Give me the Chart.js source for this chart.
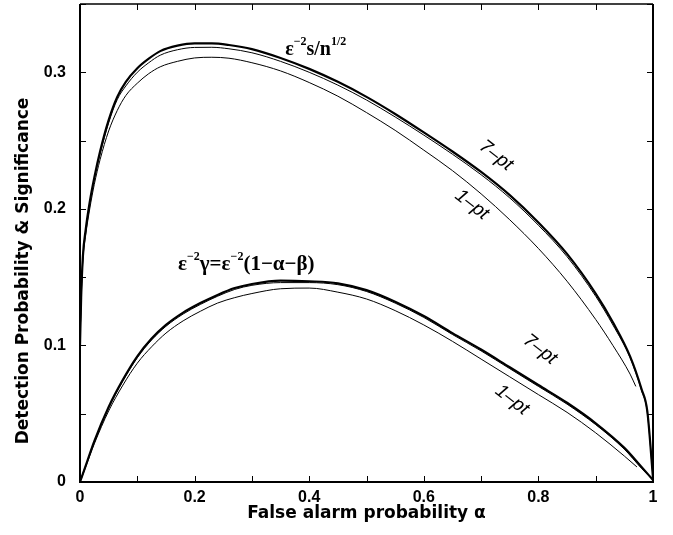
<!DOCTYPE html>
<html><head><meta charset="utf-8">
<script src="https://cdn.jsdelivr.net/npm/chart.js@4.4.0/dist/chart.umd.min.js"></script>
<style>html,body{margin:0;padding:0;background:#fff;}#wrap{width:673px;height:535px;position:relative;}</style>
</head><body><div id="wrap"><canvas id="c" width="673" height="535"></canvas></div>
<script>
// ---- data ----
const alphaUpper = [0, .002, .005, .01, .017, .025, .035, .05, .065, .08, .1, .12, .14, .17, .2, .23, .26, .3, .35, .4, .45, .5, .55, .6, .65, .7, .75, .8, .85, .9, .93, .96, .98, .99, 1.0];
const upper7 = [0.100, 0.135, 0.165, 0.185, 0.205, 0.223, 0.242, 0.265, 0.282, 0.293, 0.303, 0.310, 0.3155, 0.3195, 0.3212, 0.3212, 0.3200, 0.3170, 0.3105, 0.3025, 0.2930, 0.2820, 0.2695, 0.256, 0.242, 0.227, 0.210, 0.190, 0.167, 0.138, 0.117, 0.092, 0.068, 0.052, 0.003];
const upperMid = [0.100, 0.134, 0.164, 0.184, 0.204, 0.222, 0.240, 0.263, 0.280, 0.290, 0.300, 0.307, 0.3125, 0.3165, 0.3182, 0.3183, 0.3172, 0.3143, 0.3080, 0.3000, 0.2906, 0.2797, 0.2673, 0.254, 0.240, 0.225, 0.208, 0.188, 0.165, 0.136, 0.115, 0.091, 0.067, 0.051, 0.003];
const alphaUpper1 = [0, .002, .005, .01, .017, .025, .035, .05, .065, .08, .1, .12, .14, .17, .2, .23, .26, .3, .35, .4, .45, .5, .55, .6, .65, .7, .75, .8, .85, .9, .93, .96, .97];
const upper1 = [0.100, 0.132, 0.162, 0.181, 0.200, 0.218, 0.236, 0.257, 0.272, 0.283, 0.292, 0.299, 0.304, 0.308, 0.3105, 0.311, 0.3103, 0.307, 0.301, 0.2925, 0.2825, 0.2705, 0.2575, 0.243, 0.228, 0.211, 0.192, 0.171, 0.147, 0.119, 0.100, 0.079, 0.070];

const alphaLower = [0, .01, .025, .05, .075, .1, .125, .15, .18, .21, .24, .27, .3, .35, .4, .45, .5, .55, .6, .65, .7, .75, .8, .85, .9, .95, .98, 1.0];
const lower7 = [0, 0.012, 0.030, 0.055, 0.075, 0.092, 0.105, 0.115, 0.124, 0.131, 0.137, 0.142, 0.145, 0.1475, 0.147, 0.1455, 0.1405, 0.132, 0.1215, 0.109, 0.097, 0.084, 0.071, 0.058, 0.043, 0.025, 0.011, 0.0015];
const lowerMid = [0, 0.012, 0.029, 0.054, 0.074, 0.091, 0.104, 0.114, 0.123, 0.130, 0.136, 0.141, 0.144, 0.146, 0.146, 0.1445, 0.1395, 0.131, 0.1205, 0.108, 0.096, 0.083, 0.070, 0.057, 0.042, 0.024, 0.010, 0.0015];
const alphaLower1 = [0, .01, .025, .05, .075, .1, .125, .15, .18, .21, .24, .27, .3, .35, .4, .45, .5, .55, .6, .65, .7, .75, .8, .85, .9, .95, .972];
const lower1 = [0, 0.011, 0.028, 0.052, 0.071, 0.087, 0.099, 0.109, 0.118, 0.125, 0.131, 0.135, 0.138, 0.1415, 0.142, 0.139, 0.134, 0.1255, 0.115, 0.103, 0.090, 0.077, 0.064, 0.051, 0.036, 0.019, 0.011];

const xTickLabels = {0: '0', 2: '0.2', 4: '0.4', 6: '0.6', 8: '0.8', 10: '1'};
const yTickLabels = {0: '0', 2: '0.1', 4: '0.2', 6: '0.3'};
const xTitle = 'False alarm probability \u03b1';
const yTitle = 'Detection Probability & Significance';

// annotation anchors in data coordinates
const ptLabels = [
  {text: '7\u2013pt', a: 0.726, v: 0.239},
  {text: '1\u2013pt', a: 0.684, v: 0.203},
  {text: '7\u2013pt', a: 0.803, v: 0.097},
  {text: '1\u2013pt', a: 0.754, v: 0.060}
];
const upperTitlePos = {a: 0.358, v: 0.313};
const lowerTitlePos = {a: 0.171, v: 0.155};

function pts(xs, ys){ return xs.map((x,i)=>({x:x, y:ys[i]})); }

function ds(xs, ys, w){
  return {data: pts(xs, ys), borderColor:'#000', borderWidth:w, pointRadius:0, fill:false, cubicInterpolationMode:'monotone'};
}

function rich(ctx, x, y, parts){
  let cx = x;
  for (const p of parts){
    ctx.font = p.font;
    ctx.fillText(p.t, cx, y - (p.dy||0));
    cx += ctx.measureText(p.t).width + (p.gap||0);
  }
}

const decor = {
  id:'decor',
  afterDraw(chart){
    const {ctx, chartArea:ca, scales:{x, y}} = chart;
    ctx.save();
    ctx.strokeStyle = '#000';
    // frame
    ctx.lineWidth = 2;
    ctx.beginPath();
    ctx.moveTo(ca.left, ca.top); ctx.lineTo(ca.left, ca.bottom); ctx.lineTo(ca.right, ca.bottom); ctx.lineTo(ca.right, ca.top);
    ctx.stroke();
    ctx.lineWidth = 1.5;
    ctx.beginPath(); ctx.moveTo(ca.left, ca.top); ctx.lineTo(ca.right, ca.top); ctx.stroke();
    // inward ticks
    ctx.lineWidth = 1;
    const tl = 6;
    x.ticks.forEach(t=>{
      const px = Math.round(x.getPixelForValue(t.value)) + 0.5;
      ctx.beginPath();
      ctx.moveTo(px, ca.bottom); ctx.lineTo(px, ca.bottom - tl);
      ctx.moveTo(px, ca.top); ctx.lineTo(px, ca.top + tl);
      ctx.stroke();
    });
    y.ticks.forEach(t=>{
      const py = Math.round(y.getPixelForValue(t.value)) + 0.5;
      ctx.beginPath();
      ctx.moveTo(ca.left, py); ctx.lineTo(ca.left + tl, py);
      ctx.moveTo(ca.right, py); ctx.lineTo(ca.right - tl, py);
      ctx.stroke();
    });
    // axis titles
    ctx.fillStyle = '#000';
    ctx.font = "bold 17px 'DejaVu Sans', sans-serif";
    ctx.textAlign = 'center';
    ctx.textBaseline = 'alphabetic';
    ctx.fillText(xTitle, (ca.left + ca.right) / 2, 518);
    ctx.save();
    ctx.translate(28, 271);
    ctx.rotate(-Math.PI/2);
    ctx.fillText(yTitle, 0, 0);
    ctx.restore();
    // formula annotations
    ctx.textAlign = 'left';
    const big = "bold 20px 'Liberation Serif', serif";
    const big2 = "bold 21px 'Liberation Serif', serif";
    const sup = "bold 12px 'Liberation Serif', serif";
    rich(ctx, x.getPixelForValue(upperTitlePos.a), y.getPixelForValue(upperTitlePos.v), [
      {t:'\u03b5', font:big}, {t:'\u22122', font:sup, dy:10}, {t:'s/n', font:big}, {t:'1/2', font:sup, dy:10}
    ]);
    rich(ctx, x.getPixelForValue(lowerTitlePos.a), y.getPixelForValue(lowerTitlePos.v), [
      {t:'\u03b5', font:big2}, {t:'\u22122', font:sup, dy:10}, {t:'\u03b3=\u03b5', font:big2}, {t:'\u22122', font:sup, dy:10}, {t:'(1\u2212\u03b1\u2212\u03b2)', font:big2}
    ]);
    // rotated pt labels
    ctx.font = "italic 19px 'Liberation Sans', Arial, sans-serif";
    ctx.textAlign = 'center';
    ctx.textBaseline = 'middle';
    ptLabels.forEach(l=>{
      ctx.save();
      ctx.translate(x.getPixelForValue(l.a), y.getPixelForValue(l.v));
      ctx.rotate(38*Math.PI/180);
      ctx.fillText(l.text, 0, 0);
      ctx.restore();
    });
    ctx.restore();
  }
};

const tickFont = {family:"'Liberation Sans', Arial, sans-serif", size:16, weight:'bold'};

new Chart(document.getElementById('c'), {
  type:'line',
  data:{datasets:[
    ds(alphaUpper1, upper1, 1),
    ds(alphaUpper, upperMid, 1),
    ds(alphaUpper, upper7, 2.2),
    ds(alphaLower1, lower1, 1),
    ds(alphaLower, lowerMid, 1),
    ds(alphaLower, lower7, 2.2)
  ]},
  options:{
    responsive:false, devicePixelRatio:1, animation:false,
    layout:{padding:{top:4, right:20, left:0, bottom:0}},
    plugins:{legend:{display:false}, tooltip:{enabled:false}},
    scales:{
      x:{type:'linear', min:0, max:1,
        afterFit(s){ s.height = 53; s.paddingLeft = 0; s.paddingRight = 0; },
        grid:{display:false, drawTicks:false},
        border:{display:false},
        ticks:{stepSize:0.1, autoSkip:false, maxRotation:0, padding:6, color:'#000', font:tickFont,
          callback(v){ const k = Math.round(v*10); return xTickLabels[k] !== undefined ? xTickLabels[k] : ''; }},
        title:{display:false}
      },
      y:{type:'linear', min:0, max:0.35,
        afterFit(s){ s.width = 80; s.paddingTop = 0; s.paddingBottom = 0; },
        grid:{display:false, drawTicks:false},
        border:{display:false},
        ticks:{stepSize:0.05, autoSkip:false, padding:14, color:'#000', font:tickFont,
          callback(v){ const k = Math.round(v*20); return yTickLabels[k] !== undefined ? yTickLabels[k] : ''; }},
        title:{display:false}
      }
    }
  },
  plugins:[decor]
});
</script></body></html>
